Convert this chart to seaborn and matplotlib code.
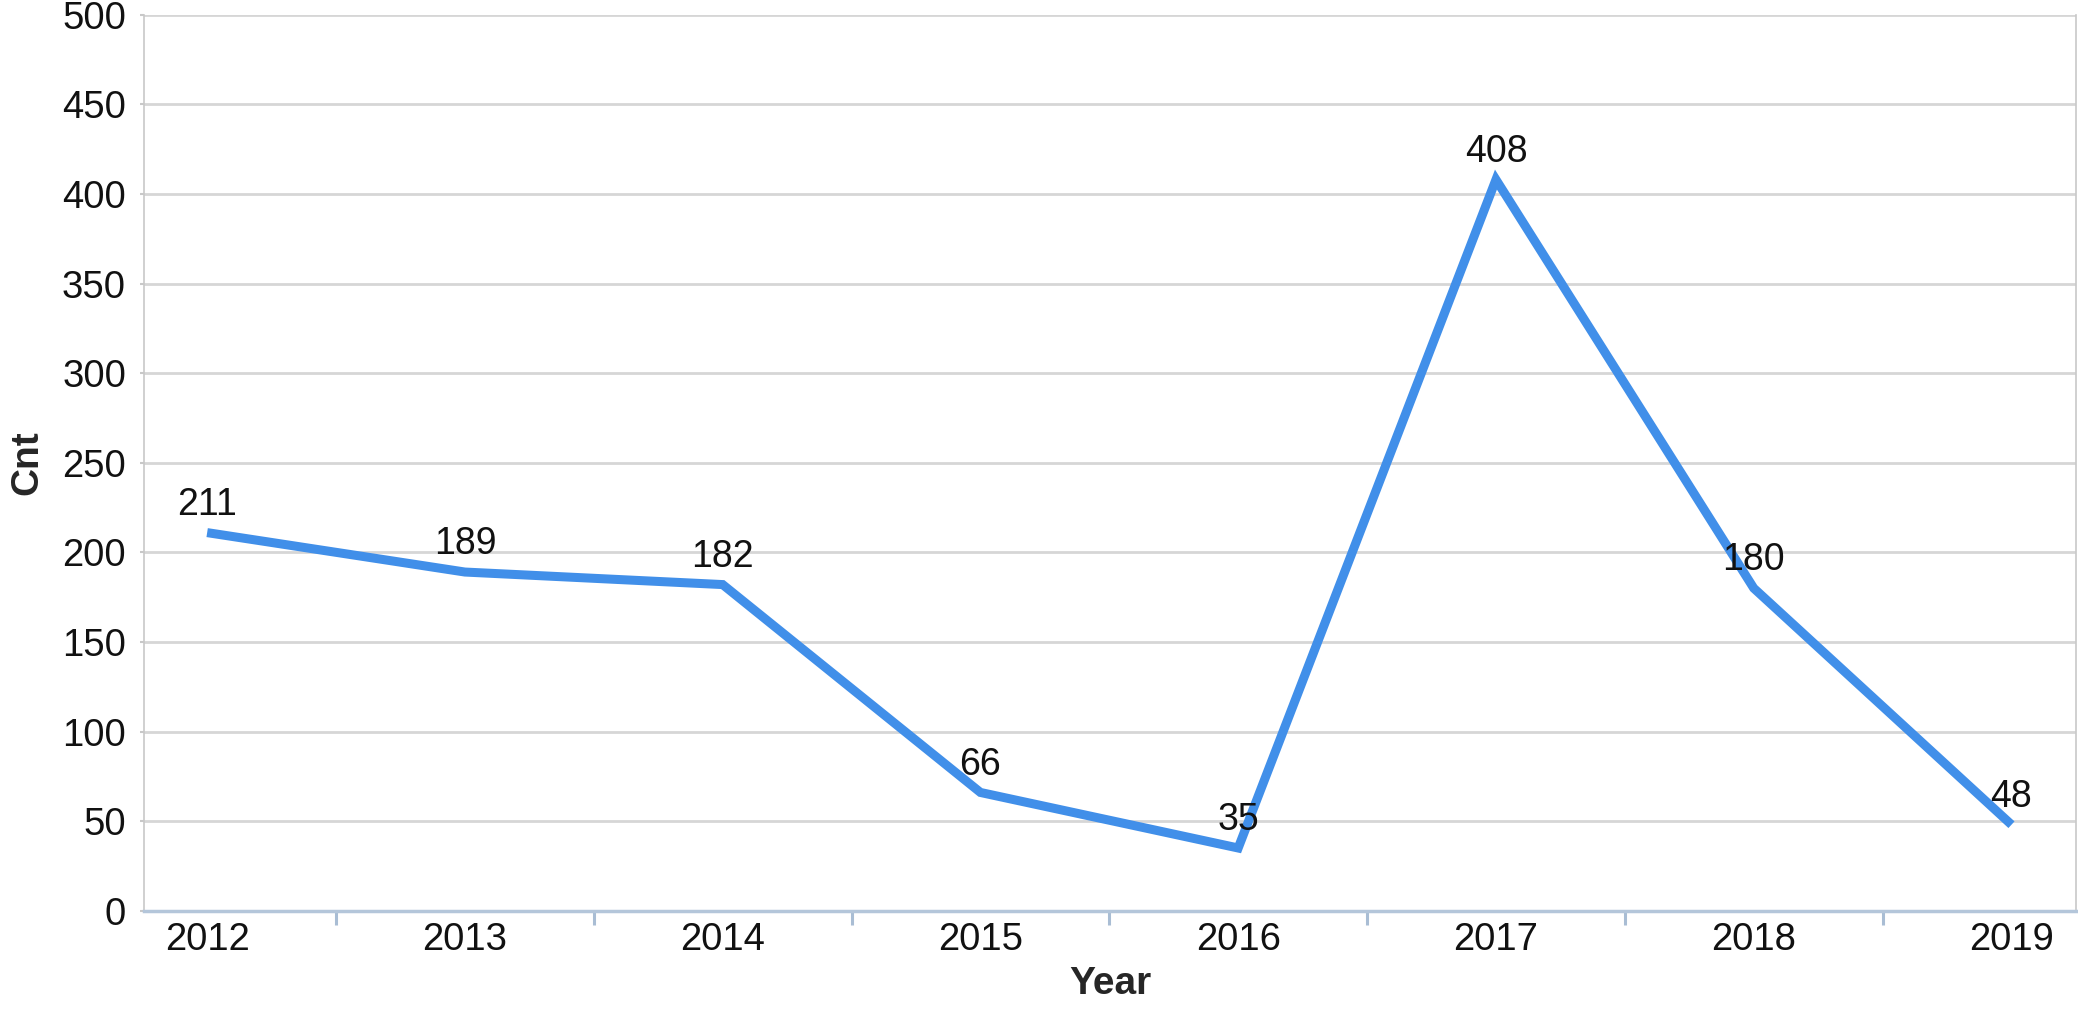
import matplotlib
matplotlib.use('Agg')
import matplotlib.pyplot as plt
import seaborn as sns
import pandas as pd
from matplotlib.ticker import MultipleLocator, FixedLocator, NullFormatter

# chart data
years = [2012, 2013, 2014, 2015, 2016, 2017, 2018, 2019]
cnt = [211, 189, 182, 66, 35, 408, 180, 48]

df = pd.DataFrame({'Year': years, 'Cnt': cnt})

sns.set_style('white')
plt.rcParams['font.family'] = ['Liberation Sans', 'DejaVu Sans']

fig = plt.figure(figsize=(20.78, 10.09), dpi=100)
ax = fig.add_axes([0.0693, 0.0974, 0.9297, 0.888])

sns.lineplot(data=df, x='Year', y='Cnt', ax=ax, color='#418fe9', linewidth=6.5)
for ln in ax.lines:
    ln.set_solid_capstyle('butt')
    ln.set_solid_joinstyle('miter')

for x, y in zip(years, cnt):
    ax.annotate(str(y), (x, y), xytext=(0, 7), textcoords='offset points',
                ha='center', va='bottom', fontsize=27, color='#111111')

ax.set_xlim(years[0] - 0.245, years[-1] + 0.25)
ax.set_ylim(0, 500)
ax.yaxis.set_major_locator(MultipleLocator(50))
ax.set_xticks(years)
ax.set_xticklabels([str(y) for y in years])
ax.xaxis.set_minor_locator(FixedLocator([y + 0.5 for y in years[:-1]]))
ax.xaxis.set_minor_formatter(NullFormatter())

ax.grid(axis='y', color='#d6d6d6', linewidth=2)
ax.set_axisbelow(True)

# seaborn's white style switches tick marks off, turn them back on
ax.tick_params(bottom=True, left=True, which='both')
ax.tick_params(axis='x', which='major', length=0, labelsize=27.5, pad=8, labelcolor='#111111')
ax.tick_params(axis='x', which='minor', length=10, width=2.2, color='#a9bdd4', direction='out')
ax.tick_params(axis='y', which='major', length=3, width=1.5, color='#c8c8c8',
               labelsize=27.5, pad=10, labelcolor='#111111')

for side in ['left', 'right', 'top']:
    ax.spines[side].set_color('#c8c8c8')
    ax.spines[side].set_linewidth(1.2)
ax.spines['top'].set_visible(False)
ax.spines['bottom'].set_color('#b4c6da')
ax.spines['bottom'].set_linewidth(2.5)

ax.set_xlabel('Year', fontsize=28, fontweight='bold', labelpad=6)
ax.set_ylabel('Cnt', fontsize=28, fontweight='bold', labelpad=12)

fig.savefig('out.png', dpi=100)
